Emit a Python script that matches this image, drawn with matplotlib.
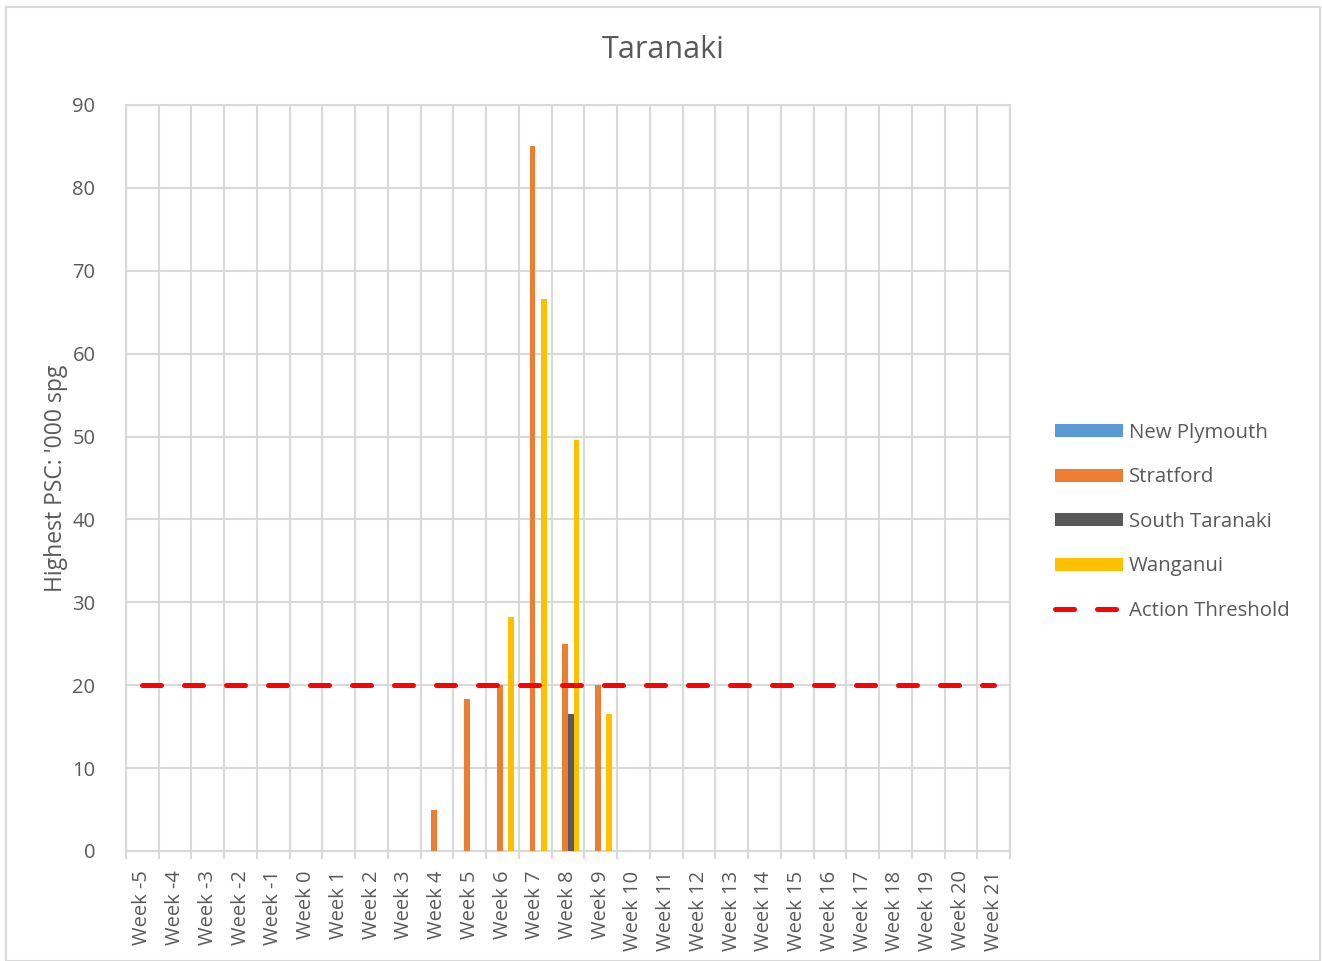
import matplotlib
matplotlib.use('agg')
import matplotlib.pyplot as plt
from matplotlib.patches import Rectangle
import numpy as np

plt.rcParams['font.family'] = ['Open Sans', 'DejaVu Sans']

# categories and series values
weeks = ['Week %d' % w for w in range(-5, 22)]
new_plymouth = [0] * 27
stratford = [0] * 27
south_taranaki = [0] * 27
wanganui = [0] * 27
# index of Week n is n + 5
stratford[9] = 5
stratford[10] = 18.3
stratford[11] = 20
stratford[12] = 85
stratford[13] = 25
stratford[14] = 20
south_taranaki[13] = 16.5
wanganui[11] = 28.2
wanganui[12] = 66.6
wanganui[13] = 49.6
wanganui[14] = 16.5
threshold = [20] * 27

series = [('New Plymouth', new_plymouth, '#5b9bd5'),
          ('Stratford', stratford, '#ed7d31'),
          ('South Taranaki', south_taranaki, '#595959'),
          ('Wanganui', wanganui, '#ffc000')]

grey = '#595959'
grid = '#d9d9d9'

fig = plt.figure(figsize=(13.22, 9.61), dpi=100)
ax = fig.add_axes([126 / 1322, 1 - 851 / 961, (1010 - 126) / 1322, (851 - 105) / 961])

x = np.arange(len(weeks))
width = 0.174
handles = []
for i, (name, vals, color) in enumerate(series):
    b = ax.bar(x + (i - 1.5) * width, vals, width, color=color, label=name, zorder=3)
    handles.append(b)

line, = ax.plot(x, threshold, color='#ff0000', linestyle=(0, (3.8, 4.6)), linewidth=3.6,
                label='Action Threshold', zorder=4, dash_capstyle='round')
handles.append(line)

ax.set_xlim(-0.5, len(weeks) - 0.5)
ax.set_ylim(0, 90)
ax.set_yticks(range(0, 91, 10))
ax.set_xticks(x)
ax.set_xticklabels(weeks, rotation=90)
ax.set_xticks(np.arange(-0.5, len(weeks), 1), minor=True)
ax.tick_params(axis='x', which='major', length=0, labelsize=14.5, colors=grey, pad=14)
ax.tick_params(axis='x', which='minor', length=6, color=grid, width=1.5)
ax.tick_params(axis='y', length=0, labelsize=14.5, colors=grey, pad=22)
ax.grid(True, which='minor', axis='x', color=grid, linewidth=1.5, zorder=0)
ax.grid(True, which='major', axis='y', color=grid, linewidth=1.5, zorder=0)
for s in ax.spines.values():
    s.set_color(grid)
    s.set_linewidth(1.5)

ax.set_ylabel("Highest PSC: '000 spg", fontsize=16.5, color=grey, labelpad=3)
fig.text(663 / 1322, 1 - 50 / 961, 'Taranaki', ha='center', va='center',
         fontsize=22, color=grey)

fig.legend(handles=handles, loc='center left', bbox_to_anchor=(1037 / 1322, 1 - 522 / 961),
           frameon=False, fontsize=14.7, handlelength=3.3, handleheight=0.6,
           labelspacing=1.2, handletextpad=0.3, labelcolor=grey)

fig.patches.append(Rectangle((6 / 1322, 0), 1314 / 1322, 1 - 7 / 961,
                             transform=fig.transFigure, fill=False,
                             edgecolor=grid, linewidth=1.5))

plt.savefig('out.png', dpi=100)
